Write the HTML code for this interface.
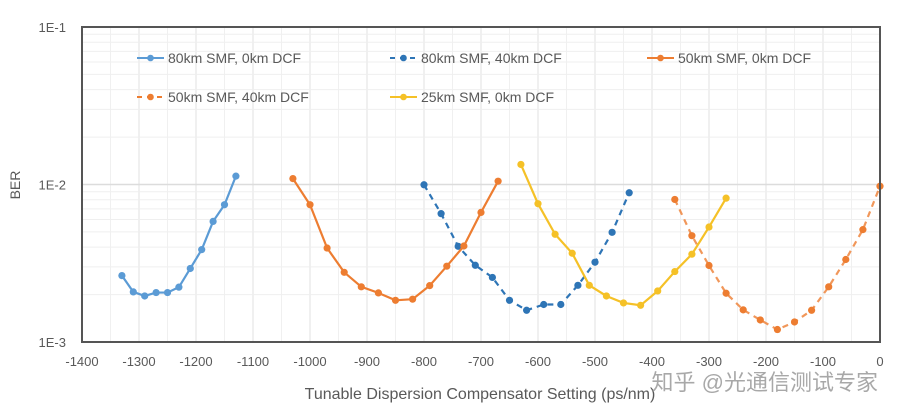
<!DOCTYPE html>
<html><head><meta charset="utf-8"><style>
body{margin:0;background:#fff;}
svg{display:block;font-family:"Liberation Sans","Noto Sans CJK SC",sans-serif;}
</style></head><body>
<svg id="chart" width="900" height="419">
<g id="grid"></g>
<g id="series"></g>
<g id="axes"></g>
<g id="legend"></g>
<text x="20" y="185" transform="rotate(-90 20 185)" text-anchor="middle" font-size="14" fill="#595959">BER</text>
<text x="480" y="399" text-anchor="middle" font-size="16" fill="#595959">Tunable Dispersion Compensator Setting (ps/nm)</text>
<text x="878" y="390" text-anchor="end" font-size="22" fill="#9a9a9a" opacity="0.85">知乎 @光通信测试专家</text>
</svg>
<script>
const xTicks=[-1400,-1300,-1200,-1100,-1000,-900,-800,-700,-600,-500,-400,-300,-200,-100,0];
const yTicks=[1e-3,1e-2,1e-1];
const yTickLabels=["1E-3","1E-2","1E-1"];
const names=["80km SMF, 0km DCF","80km SMF, 40km DCF","50km SMF, 0km DCF","50km SMF, 40km DCF","25km SMF, 0km DCF"];
const x1=[-1330,-1310,-1290,-1270,-1250,-1230,-1210,-1190,-1170,-1150,-1130];
const y1=[2.64e-3,2.08e-3,1.96e-3,2.06e-3,2.06e-3,2.23e-3,2.93e-3,3.86e-3,5.83e-3,7.44e-3,1.13e-2];
const x2=[-800,-770,-740,-710,-680,-650,-620,-590,-560,-530,-500,-470,-440];
const y2=[9.96e-3,6.53e-3,4.05e-3,3.07e-3,2.57e-3,1.84e-3,1.59e-3,1.73e-3,1.73e-3,2.29e-3,3.21e-3,4.97e-3,8.86e-3];
const x3=[-1030,-1000,-970,-940,-910,-880,-850,-820,-790,-760,-730,-700,-670];
const y3=[1.09e-2,7.44e-3,3.95e-3,2.77e-3,2.24e-3,2.05e-3,1.84e-3,1.87e-3,2.28e-3,3.03e-3,4.07e-3,6.65e-3,1.05e-2];
const x4=[-360,-330,-300,-270,-240,-210,-180,-150,-120,-90,-60,-30,0];
const y4=[8.04e-3,4.73e-3,3.06e-3,2.04e-3,1.60e-3,1.38e-3,1.20e-3,1.34e-3,1.59e-3,2.24e-3,3.34e-3,5.17e-3,9.75e-3];
const x5=[-630,-600,-570,-540,-510,-480,-450,-420,-390,-360,-330,-300,-270];
const y5=[1.34e-2,7.55e-3,4.83e-3,3.66e-3,2.29e-3,1.96e-3,1.77e-3,1.71e-3,2.11e-3,2.80e-3,3.61e-3,5.37e-3,8.19e-3];

const NS="http://www.w3.org/2000/svg";
const L=82,R=880,T=27,B=342;
const xs=v=>R+(v)*(R-L)/1400;
const ys=v=>B-(Math.log10(v)+3)*(B-T)/2;
function mk(tag,at,parent){const e=document.createElementNS(NS,tag);for(const k in at)e.setAttribute(k,at[k]);parent.appendChild(e);return e;}
const grid=document.getElementById('grid'),axes=document.getElementById('axes'),ser=document.getElementById('series'),leg=document.getElementById('legend');
for(let v=-1400;v<=0;v+=50){const l=mk('line',{x1:xs(v),x2:xs(v),y1:T,y2:B,stroke:v%100?'#f0f0f0':'#e0e0e0','stroke-width':1},grid);

}
for(let d=-3;d<-1;d++)for(let m=1;m<10;m++){const v=m*Math.pow(10,d);const l=mk('line',{x1:L,x2:R,y1:ys(v),y2:ys(v),stroke:m==1?'#dcdcdc':'#efefef','stroke-width':m==1?1.5:1},grid);

}
let fr=mk('rect',{x:L,y:T,width:R-L,height:B-T,fill:'none',stroke:'#555','stroke-width':2},axes);


xTicks.forEach(v=>{const t=mk('text',{x:xs(v),y:366,'text-anchor':'middle','font-size':13,fill:'#595959'},axes);t.textContent=v;

});
yTicks.forEach((v,i)=>{const t=mk('text',{x:66,y:ys(v)+5,'text-anchor':'end','font-size':13,fill:'#595959'},axes);t.textContent=yTickLabels[i];

});
const cols=['#5b9bd5','#2e75b6','#ed7d31','#ed7d31','#f5c127'];
const dash=[null,'6,5',null,'6,5',null];
const data=[[x1,y1],[x2,y2],[x3,y3],[x4,y4],[x5,y5]];
data.forEach(([xa,ya],i)=>{
 const g=mk('g',{},ser);
 
 
 const p=mk('polyline',{points:xa.map((x,j)=>xs(x)+','+ys(ya[j])).join(' '),fill:'none',stroke:cols[i],'stroke-width':2.2,'stroke-opacity':i==3?0.8:1},g);
 if(dash[i])p.setAttribute('stroke-dasharray',dash[i]);
 
 
 xa.forEach((x,j)=>{const c=mk('circle',{cx:xs(x),cy:ys(ya[j]),r:3.6,fill:cols[i]},g);
 
 });
});
const lp=[[137,58],[390,58],[647,58],[137,97],[390,97]];
lp.forEach(([x,y],i)=>{
 const g=mk('g',{},leg);
 
 
 const l=mk('line',{x1:x,x2:x+27,y1:y,y2:y,stroke:cols[i],'stroke-width':2},g);
 if(dash[i])l.setAttribute('stroke-dasharray','5,5');
 mk('circle',{cx:x+13.5,cy:y,r:3.3,fill:cols[i]},g);
 const t=mk('text',{x:x+31,y:y+5,'font-size':14,fill:'#595959'},g);t.textContent=names[i];
});
</script>
</body></html>
